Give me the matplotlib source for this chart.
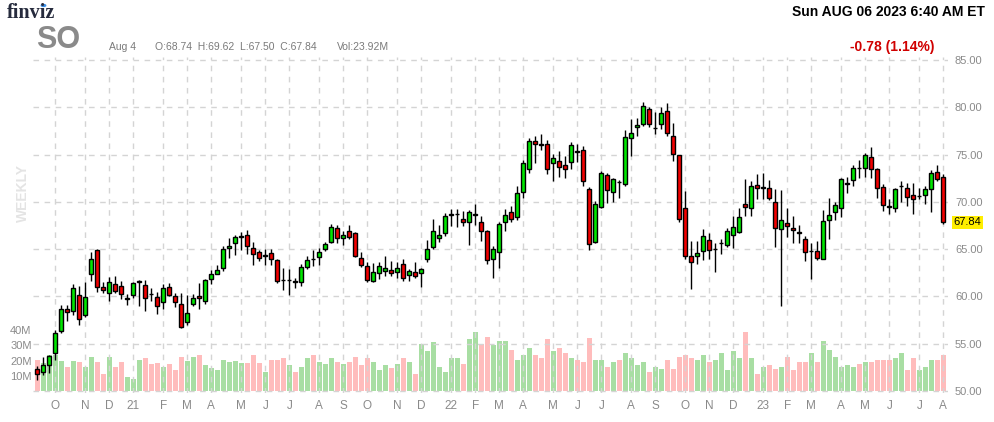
import matplotlib
matplotlib.use("Agg")
import matplotlib.pyplot as plt
import matplotlib.transforms as mtransforms
import pandas as pd

plt.rcParams['font.family'] = ['Liberation Sans', 'DejaVu Sans']

# weekly candles, week ending Friday, SO
week_end = pd.date_range("2020-09-11", periods=152, freq="7D")

opens = [52.3, 52.0, 52.71, 54.07, 56.32, 58.64, 58.5, 60.2, 58.04, 62.36,
         64.86, 60.96, 60.36, 61.29, 61.07, 59.78, 60.14, 61.5, 61.2, 60.3,
         59.9, 59.36, 61.0, 60.0, 59.25, 57.32, 59.25, 60.0, 59.57, 61.82,
         62.36, 63.0, 65.14, 65.68, 66.3, 66.54, 65.14, 64.71, 64.32, 64.6,
         63.86, 61.75, 61.7, 61.6, 61.5, 63.1, 64.0, 64.2, 65.04, 65.79,
         67.29, 66.22, 66.89, 66.68, 64.05, 63.2, 61.65, 62.43, 62.71, 62.75,
         62.54, 63.38, 62.22, 62.54, 62.43, 64.01, 65.18, 66.23, 66.76, 68.62,
         68.7, 68.24, 67.89, 68.64, 67.89, 66.87, 64.01, 64.65, 67.92, 68.98,
         68.35, 71.08, 73.5, 76.47, 76.1, 76.12, 74.13, 74.37, 73.95, 74.23,
         75.33, 75.49, 71.33, 65.8, 69.51, 72.87, 71.08, 72.1, 71.92, 76.75,
         77.9, 78.22, 79.79, 77.76, 78.22, 79.62, 76.92, 74.96, 69.3, 64.26,
         64.26, 64.79, 66.01, 65.0, 65.6, 65.49, 66.54, 66.85, 69.75, 69.3,
         71.75, 71.52, 71.43, 70.03, 67.13, 67.73, 67.24, 66.8, 66.05, 64.78,
         64.79, 63.95, 68.11, 68.98, 69.3, 71.92, 72.27, 73.62, 73.6, 74.75,
         73.5, 71.6, 69.53, 69.4, 71.68, 71.5, 70.7, 70.63, 70.7, 71.33,
         73.18, 72.66]
highs = [52.68, 53.64, 53.8, 56.5, 59.14, 59.07, 61.3, 61.1, 61.5, 64.71,
         65.07, 61.5, 62.04, 62.14, 61.6, 60.3, 61.55, 61.7, 61.7, 60.86,
         60.43, 61.36, 61.43, 60.36, 60.36, 60.2, 60.25, 61.43, 61.86, 62.75,
         63.29, 65.36, 66.14, 66.5, 66.86, 67.04, 65.79, 64.9, 65.0, 65.07,
         64.0, 63.0, 62.93, 61.93, 63.46, 64.29, 64.9, 65.14, 65.79, 67.64,
         67.57, 66.96, 67.55, 66.78, 64.68, 63.66, 63.52, 63.59, 64.23, 63.8,
         63.59, 63.94, 62.89, 63.59, 63.06, 65.95, 68.24, 67.54, 68.87, 69.23,
         69.23, 69.05, 69.15, 69.75, 68.52, 67.0, 65.35, 67.82, 69.23, 69.58,
         71.68, 74.47, 76.75, 76.92, 77.2, 76.57, 75.1, 75.42, 74.82, 76.3,
         76.15, 75.94, 71.6, 70.1, 73.25, 73.08, 72.55, 72.31, 77.62, 78.74,
         78.85, 80.59, 80.07, 79.55, 80.07, 80.42, 78.32, 74.96, 71.12, 65.87,
         65.87, 67.13, 66.68, 65.63, 66.08, 67.2, 68.53, 69.33, 72.45, 72.2,
         72.9, 73.08, 72.27, 71.33, 71.26, 69.4, 68.53, 67.55, 66.36, 65.66,
         65.91, 69.12, 70.45, 70.0, 72.55, 72.66, 73.85, 74.4, 75.17, 75.8,
         73.6, 71.85, 70.28, 71.43, 72.24, 72.03, 71.96, 71.43, 71.68, 73.32,
         73.85, 72.9]
lows = [51.2, 51.68, 51.93, 53.29, 56.14, 57.4, 58.0, 56.93, 57.86, 61.6,
        60.5, 60.36, 59.54, 60.36, 59.7, 59.14, 59.8, 59.0, 58.43, 59.5,
        58.1, 58.64, 60.0, 58.93, 56.64, 57.0, 59.0, 58.64, 59.21, 61.29,
        62.36, 62.71, 64.04, 64.36, 64.86, 64.5, 63.29, 63.71, 63.29, 63.29,
        61.43, 60.64, 60.14, 60.86, 61.14, 62.93, 63.2, 63.29, 64.79, 65.61,
        65.61, 65.45, 66.08, 64.16, 63.11, 61.55, 61.55, 61.83, 62.11, 62.18,
        61.97, 61.65, 61.65, 62.0, 61.02, 63.66, 65.0, 65.77, 66.41, 67.46,
        67.3, 67.46, 65.46, 67.54, 65.88, 63.42, 61.9, 63.06, 66.94, 67.9,
        68.11, 70.45, 73.08, 74.13, 75.45, 72.97, 72.2, 72.62, 72.55, 73.43,
        74.2, 71.68, 64.86, 65.66, 69.4, 69.93, 70.03, 70.42, 71.68, 74.82,
        76.92, 78.04, 77.97, 77.2, 77.69, 76.92, 74.3, 67.9, 63.91, 60.84,
        63.46, 63.81, 63.98, 62.59, 64.51, 65.21, 65.14, 66.71, 68.46, 68.53,
        70.28, 70.28, 70.21, 65.28, 59.02, 66.33, 65.66, 65.66, 63.74, 61.82,
        63.88, 63.95, 66.08, 68.11, 68.35, 70.98, 71.68, 72.55, 72.66, 72.55,
        70.45, 69.05, 68.7, 68.88, 70.0, 69.58, 68.77, 70.28, 69.75, 68.88,
        72.2, 67.66]
closes = [51.8, 52.71, 53.68, 56.14, 58.71, 58.39, 60.86, 57.57, 59.9, 63.96,
          60.96, 60.71, 61.5, 60.57, 60.21, 59.82, 61.39, 61.6, 59.8, 60.25,
          59.0, 60.86, 60.2, 59.36, 56.75, 58.29, 59.79, 59.79, 61.75, 62.39,
          62.82, 65.04, 65.36, 66.25, 66.34, 65.29, 64.5, 64.07, 64.36, 64.0,
          61.6, 61.7, 61.74, 61.56, 63.1, 63.86, 63.96, 64.71, 65.57, 67.36,
          66.14, 66.54, 66.33, 64.23, 63.28, 61.76, 62.54, 63.17, 62.96, 62.43,
          63.06, 62.0, 62.64, 62.11, 62.85, 65.07, 66.87, 66.55, 68.52, 68.68,
          68.74, 67.92, 68.98, 68.7, 66.87, 63.9, 65.07, 67.61, 68.66, 68.18,
          70.98, 74.13, 76.4, 76.12, 76.05, 73.5, 74.65, 73.7, 73.5, 76.05,
          75.3, 72.24, 65.52, 69.82, 73.08, 71.26, 72.38, 72.06, 76.85, 77.27,
          78.15, 80.14, 78.22, 77.8, 79.44, 77.27, 75.07, 68.18, 64.26, 63.63,
          64.58, 66.36, 64.96, 65.04, 65.65, 66.89, 67.31, 68.35, 69.51, 71.68,
          71.47, 71.56, 70.45, 67.2, 68.04, 67.41, 66.99, 66.76, 64.68, 64.81,
          64.05, 67.94, 68.6, 69.65, 72.38, 71.95, 73.6, 73.6, 74.93, 73.43,
          71.5, 69.65, 69.5, 71.33, 71.72, 70.56, 70.35, 70.67, 71.4, 73.08,
          72.45, 67.84]
# weekly volume, millions
volumes = [20.6, 18.5, 23.5, 23.5, 19.6, 16.1, 20.0, 19.0, 16.1, 22.7,
           19.0, 10.9, 22.7, 15.5, 19.0, 9.5, 8.2, 20.7, 21.4, 17.6,
           18.3, 15.5, 17.5, 13.5, 22.7, 19.6, 22.7, 24.0, 16.8, 15.0,
           14.1, 20.7, 19.0, 20.0, 18.3, 18.3, 23.4, 18.3, 12.8, 20.7,
           20.7, 21.4, 16.8, 12.8, 15.5, 21.8, 24.0, 18.8, 18.0, 21.8,
           19.3, 17.5, 19.3, 22.7, 16.8, 21.4, 18.8, 14.1, 16.8, 14.9,
           18.0, 21.4, 19.3, 11.5, 30.8, 26.0, 32.5, 15.5, 12.8, 21.4,
           21.4, 17.5, 34.5, 39.0, 31.2, 35.8, 30.2, 32.8, 32.8, 27.3,
           20.7, 24.0, 28.0, 24.0, 21.4, 33.9, 26.6, 28.0, 25.3, 22.0,
           20.1, 19.4, 35.2, 20.7, 20.1, 15.5, 19.4, 20.1, 25.3, 22.0,
           16.8, 18.8, 12.2, 16.1, 14.8, 20.7, 14.8, 22.7, 24.0, 21.4,
           20.1, 23.4, 19.4, 20.7, 25.3, 13.5, 26.0, 22.0, 39.1, 22.0,
           10.9, 15.5, 17.4, 14.8, 16.1, 22.7, 14.1, 18.8, 19.4, 25.3,
           18.8, 33.2, 27.3, 22.7, 16.1, 17.4, 15.5, 18.1, 19.4, 18.8,
           20.7, 20.7, 20.1, 21.4, 24.7, 13.5, 21.4, 14.1, 15.5, 20.7,
           20.7, 23.4]

price_ticks = [50, 55, 60, 65, 70, 75, 80, 85]
vol_ticks = [10, 20, 30, 40]
last_close = closes[-1]

GREEN, RED = '#00e600', '#f20000'
VGREEN, VRED = '#a8dea3', '#ffbcbc'
GRAY = '#8a8a8a'

x = list(range(len(closes)))
up = [c >= o for o, c in zip(opens, closes)]

fig = plt.figure(figsize=(9.94, 4.22), dpi=100)
rect = [33 / 994, 29 / 422, 915 / 994, 336 / 422]
ymin, ymax = 49.79, 85.32
vol_per_price = 6.222

# volume pane (behind)
axv = fig.add_axes(rect)
axv.bar(x, volumes, width=0.78, color=[VGREEN if u else VRED for u in up], linewidth=0)
axv.set_ylim((ymin - 50) * vol_per_price, (ymax - 50) * vol_per_price)
axv.set_xlim(-0.72, len(x) - 1 + 0.78)
axv.set_yticks(vol_ticks)
axv.set_yticklabels([f"{v}M" for v in vol_ticks])
axv.tick_params(axis='y', length=0, pad=1, labelsize=8, labelcolor=GRAY)
axv.tick_params(axis='x', length=0, labelbottom=False)
for s in axv.spines.values():
    s.set_visible(False)

# price pane
ax = fig.add_axes(rect, sharex=axv)
ax.patch.set_visible(False)
ax.vlines(x, lows, highs, color='black', linewidth=1, zorder=3)
bottoms = [min(o, c) for o, c in zip(opens, closes)]
heights = [max(abs(c - o), 0.02) for o, c in zip(opens, closes)]
ax.bar(x, heights, bottom=bottoms, width=0.7, color=[GREEN if u else RED for u in up],
       edgecolor='black', linewidth=1, zorder=4)
ax.set_ylim(ymin, ymax)
ax.yaxis.tick_right()
ax.set_yticks(price_ticks)
ax.set_yticklabels([f"{p:.2f}" for p in price_ticks])
ax.tick_params(axis='y', length=0, pad=5, labelsize=8, labelcolor=GRAY)

# month ticks
tick_pos, tick_lab = [], []
for i in range(1, len(week_end)):
    if week_end[i].month != week_end[i - 1].month:
        tick_pos.append(i)
        d = week_end[i]
        tick_lab.append(d.strftime('%y') if d.month == 1 else d.strftime('%b')[0])
ax.set_xticks(tick_pos)
ax.set_xticklabels(tick_lab)
ax.tick_params(axis='x', length=0, pad=5, labelsize=8.5, labelcolor=GRAY)
ax.grid(True, color='#d4d4d4', linestyle=(0, (4, 4)), linewidth=1)
ax.set_axisbelow(True)
for s in ax.spines.values():
    s.set_visible(False)

# last price tag
trans = mtransforms.blended_transform_factory(ax.transAxes, ax.transData)
ax.text(1.006, last_close, f"{last_close:.2f}", transform=trans, fontsize=8,
        va='center', ha='left', color='black',
        bbox=dict(boxstyle='square,pad=0.15', fc='#ffee00', ec='none'))

# header
fig.text(7 / 994, 1 - 13 / 422, "finviz", fontsize=14.5, fontweight='bold',
         family='Liberation Serif', color='#262b3d', va='center')
fig.patches.append(plt.Circle((43.5 / 994, 1 - 5.5 / 422), 2.2 / 994,
                              transform=fig.transFigure, color='#3a8ee6'))
fig.text(36 / 994, 1 - 40 / 422, "SO", fontsize=22, fontweight='bold',
         color=GRAY, va='center')
fig.text(109 / 994, 1 - 47 / 422, "Aug 4", fontsize=7.5, color='#7a7a7a', va='center')
fig.text(155 / 994, 1 - 47 / 422, "O:68.74  H:69.62  L:67.50  C:67.84",
         fontsize=7.5, color='#7a7a7a', va='center')
fig.text(337 / 994, 1 - 47 / 422, "Vol:23.92M", fontsize=7.5, color='#7a7a7a', va='center')
fig.text(985 / 994, 1 - 12 / 422, "Sun AUG 06 2023 6:40 AM ET", fontsize=10,
         fontweight='bold', color='black', ha='right', va='center')
fig.text(935 / 994, 1 - 47 / 422, "-0.78 (1.14%)", fontsize=10,
         fontweight='bold', color='#d00000', ha='right', va='center')
fig.text(23 / 994, 1 - 193 / 422, "WEEKLY", fontsize=10, fontweight='bold',
         color='#e4e4e4', rotation=90, ha='center', va='center')

fig.savefig("out.png", dpi=100)
